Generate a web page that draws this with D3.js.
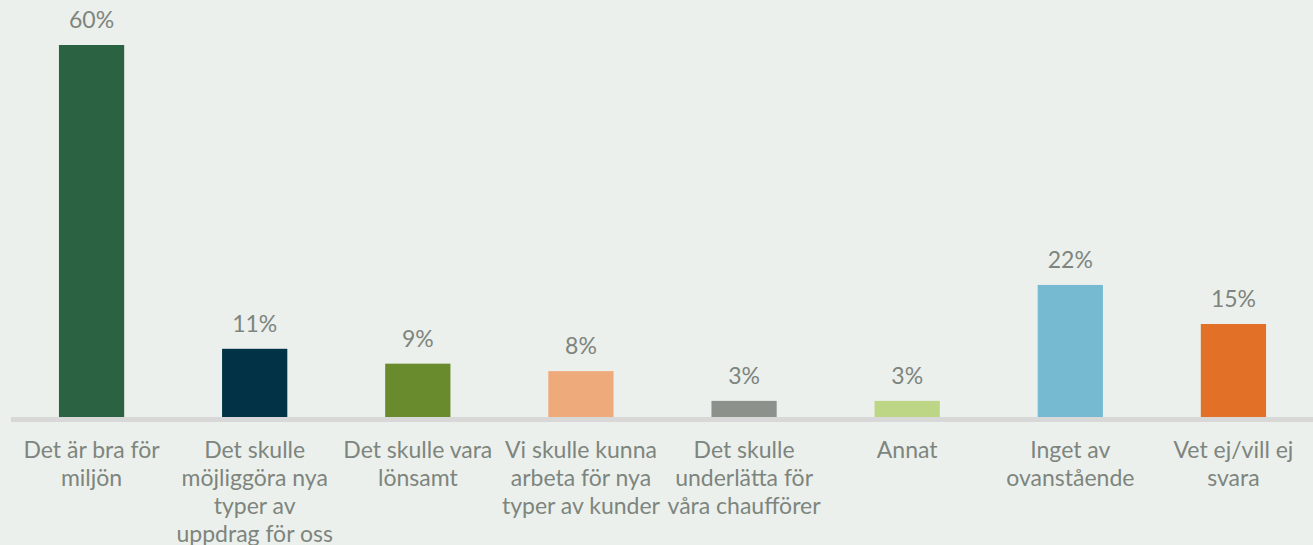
<!DOCTYPE html>
<html>
<head>
<meta charset="utf-8">
<script src="https://cdn.jsdelivr.net/npm/d3@7"></script>
<style>
  html, body { margin: 0; padding: 0; background: #ecf0ec; }
  svg { display: block; }
  text { font-family: Lato, "Open Sans", sans-serif; fill: #7d857e; }
</style>
</head>
<body>
<script>
(function() {
  'use strict';

  var width = 1313,
      height = 545,
      margin = {left: 10, right: -2, top: 45, bottom: 128};

  // categories, line breaks as in the original
  var categories = [
    "Det är bra för|miljön",
    "Det skulle|möjliggöra nya|typer av|uppdrag för oss",
    "Det skulle vara|lönsamt",
    "Vi skulle kunna|arbeta för nya|typer av kunder",
    "Det skulle|underlätta för|våra chaufförer",
    "Annat",
    "Inget av|ovanstående",
    "Vet ej/vill ej|svara"
  ];
  var values = [60, 11, 8.6, 7.4, 2.6, 2.6, 21.3, 15];
  var valueLabels = ["60%", "11%", "9%", "8%", "3%", "3%", "22%", "15%"];
  var colors = ["#2a6242", "#023246", "#6a8a2e", "#efaa7c", "#8c918c", "#bdd685", "#76bad2", "#e27026"];

  var svg = d3.select("body").append("svg")
      .attr("width", width)
      .attr("height", height);

  var x = d3.scaleBand()
      .domain(d3.range(categories.length))
      .range([margin.left, width - margin.right])
      .paddingInner(0.6)
      .paddingOuter(0.3);

  var y = d3.scaleLinear()
      .domain([0, 60])
      .range([height - margin.bottom, margin.top]);

  svg.selectAll("rect.bar").data(values).enter()
      .append("rect")
      .attr("class", "bar")
      .attr("x", function(d, i) { return x(i); })
      .attr("y", function(d) { return y(d); })
      .attr("width", x.bandwidth())
      .attr("height", function(d) { return y(0) - y(d); })
      .attr("fill", function(d, i) { return colors[i]; });

  // baseline
  svg.append("line")
      .attr("x1", margin.left + 1)
      .attr("x2", width)
      .attr("y1", y(0) + 2.5)
      .attr("y2", y(0) + 2.5)
      .attr("stroke", "#d8d8d8")
      .attr("stroke-width", 5);

  svg.selectAll("text.val").data(values).enter()
      .append("text")
      .attr("class", "val")
      .attr("x", function(d, i) { return x(i) + x.bandwidth() / 2; })
      .attr("y", function(d) { return y(d) - 17; })
      .attr("text-anchor", "middle")
      .style("font-size", "23px")
      .text(function(d, i) { return valueLabels[i]; });

  var cat = svg.selectAll("text.cat").data(categories).enter()
      .append("text")
      .attr("class", "cat")
      .attr("text-anchor", "middle")
      .style("font-size", "23px")
      .attr("transform", function(d, i) {
        return "translate(" + (x(i) + x.bandwidth() / 2) + "," + (y(0) + 41) + ")";
      });

  cat.selectAll("tspan")
      .data(function(d) { return d.split("|"); })
      .enter().append("tspan")
      .attr("x", 0)
      .attr("y", function(d, j) { return j * 28; })
      .text(function(d) { return d; });

})();
</script>
</body>
</html>
